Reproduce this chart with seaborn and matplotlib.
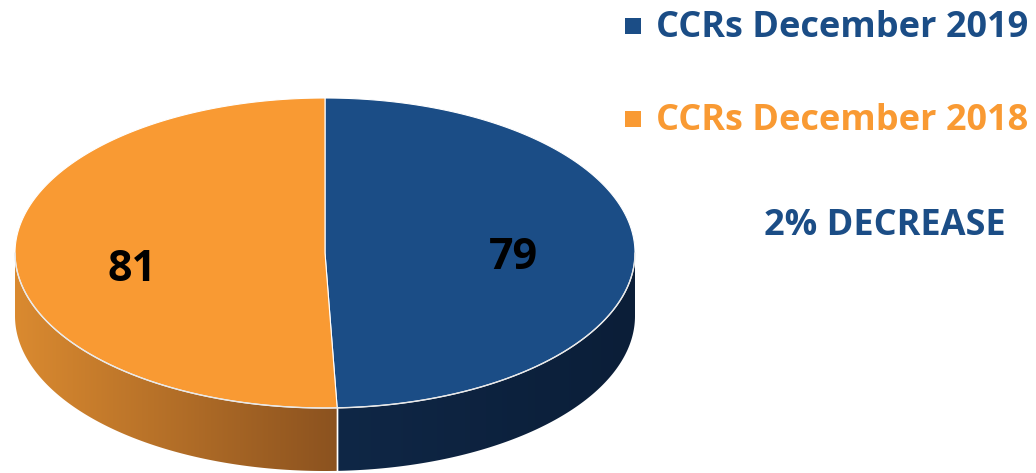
import numpy as np
import matplotlib
matplotlib.use("Agg")
import matplotlib.pyplot as plt
from matplotlib.patches import Polygon
from matplotlib.colors import LinearSegmentedColormap
import seaborn as sns

# chart data
labels = ["CCRs December 2019", "CCRs December 2018"]
values = [79, 81]
note = "2% DECREASE"

top_colors = ["#1b4d86", "#f99a33"]
wall_colors = [("#0f2746", "#0b1e38"), ("#8b521f", "#da8a30")]  # (near split, outer edge)

sns.set_theme(style="white")
plt.rcParams["font.family"] = ["Open Sans", "DejaVu Sans"]

fig = plt.figure(figsize=(10.36, 4.73), dpi=100)
ax = fig.add_axes([0, 0, 1, 1])
ax.set_xlim(0, 1036)
ax.set_ylim(473, 0)
ax.axis("off")

# ellipse geometry (pixels)
cx, cy, rx, ry, depth = 325, 253, 310, 155, 63


def rim(a0, a1, n=200):
    t = np.radians(np.linspace(a0, a1, n))
    return cx + rx * np.sin(t), cy - ry * np.cos(t)


fractions = np.array(values) / np.sum(values)
bounds = np.concatenate([[0], np.cumsum(fractions) * 360])

# side walls (front half only: 90..270 deg clockwise from top)
for i in range(len(values)):
    a0, a1 = max(bounds[i], 90), min(bounds[i + 1], 270)
    if a1 <= a0:
        continue
    x, y = rim(a0, a1)
    px = np.concatenate([x, x[::-1]])
    py = np.concatenate([y, y[::-1] + depth])
    poly = Polygon(np.column_stack([px, py]), closed=True, facecolor="none",
                   edgecolor="none")
    ax.add_patch(poly)
    near, outer = wall_colors[i]
    split_x = cx + rx * np.sin(np.radians(bounds[1]))
    if x.mean() > split_x:
        cmap = LinearSegmentedColormap.from_list("w", [near, outer])
    else:
        cmap = LinearSegmentedColormap.from_list("w", [outer, near])
    grad = np.linspace(0, 1, 256).reshape(1, -1)
    im = ax.imshow(grad, cmap=cmap, aspect="auto",
                   extent=[px.min(), px.max(), py.max(), py.min()], zorder=1)
    im.set_clip_path(poly)
    # white divider on the wall at the slice boundary
    for a in (a0, a1):
        if 90 < a < 270:
            xe, ye = rim(a, a, 1)
            ax.plot([xe[0], xe[0]], [ye[0], ye[0] + depth], color="white",
                    lw=1, zorder=2)

# top face slices
for i in range(len(values)):
    x, y = rim(bounds[i], bounds[i + 1])
    pts = np.column_stack([np.concatenate([[cx], x]), np.concatenate([[cy], y])])
    ax.add_patch(Polygon(pts, closed=True, facecolor=top_colors[i],
                         edgecolor="white", lw=0.8, zorder=3))

# front highlight edge
xf, yf = rim(90, 270)
ax.plot(xf, yf, color="#e8e8e8", lw=1, zorder=4)

# value labels
ax.text(513, 269, str(values[0]), fontsize=31, fontweight="bold",
        color="black", ha="center", va="baseline", zorder=5)
ax.text(132, 281, str(values[1]), fontsize=31, fontweight="bold",
        color="black", ha="center", va="baseline", zorder=5)

# legend
for i, (lab, yy) in enumerate(zip(labels, [26, 119])):
    ax.scatter([633], [yy], marker="s", s=135, color=top_colors[i],
               edgecolor="none", zorder=5)
    ax.text(656, yy + 11, lab, fontsize=26, fontweight="bold",
            color=top_colors[i], ha="left", va="baseline")

ax.text(885, 235, note, fontsize=26, fontweight="bold", color=top_colors[0],
        ha="center", va="baseline")

fig.savefig("out.png", dpi=100)
